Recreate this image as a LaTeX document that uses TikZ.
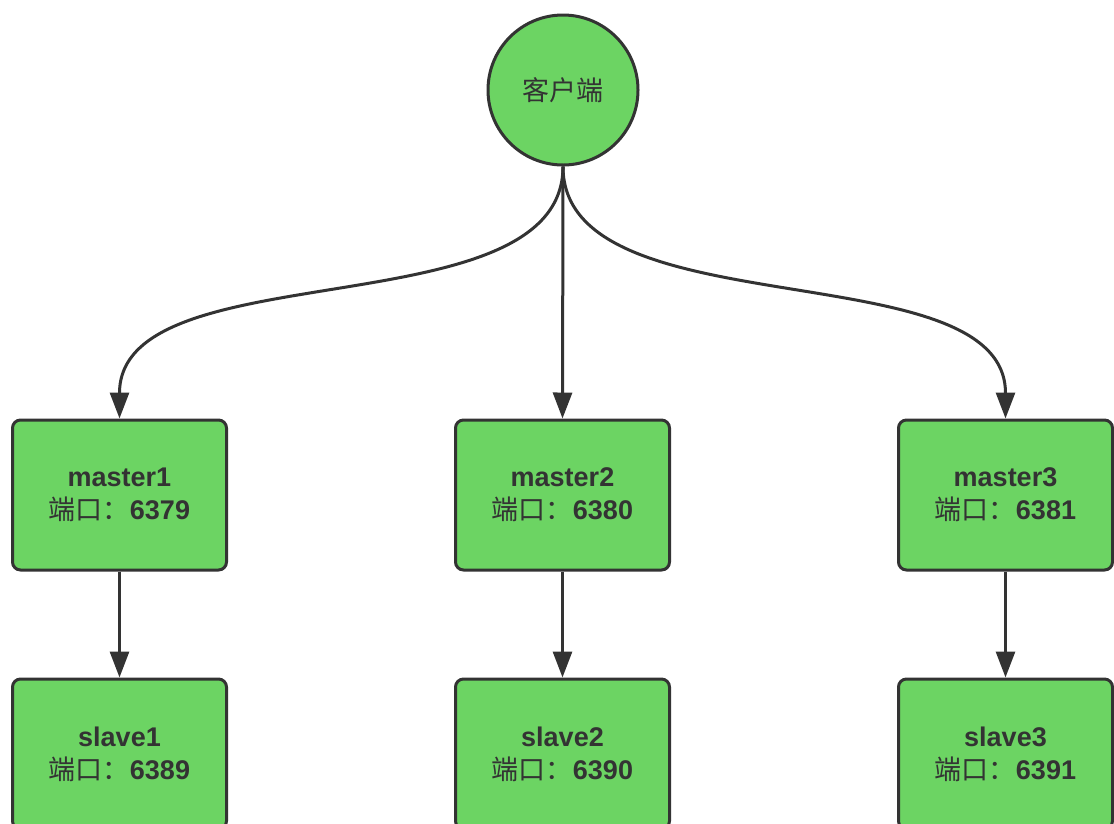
\documentclass[tikz,border=0pt]{standalone}
\usepackage{fontspec}
\setmainfont{Liberation Sans}
\newfontfamily\cjk{Noto Sans CJK SC}
\usetikzlibrary{arrows.meta}
\definecolor{fillg}{HTML}{6CD463}
\definecolor{ink}{HTML}{333333}
\newcommand{\port}{{\cjk\mdseries 端口：}}
\begin{document}
\begin{tikzpicture}[x=1pt,y=-1pt,
  box/.style={draw=ink, fill=fillg, line width=3pt, rounded corners=8pt,
    minimum width=214pt, minimum height=150pt, inner sep=0pt, align=center,
    font=\fontsize{27}{33}\selectfont\bfseries, text=ink},
  client/.style={draw=ink, fill=fillg, line width=3pt, circle,
    minimum size=150pt, inner sep=0pt, font=\fontsize{27}{33}\selectfont\cjk, text=ink},
  arr/.style={draw=ink, line width=3pt, -{Triangle[length=26pt,width=19pt]}}]
\useasboundingbox (0,0) rectangle (1114,823);
\clip (0,0) rectangle (1114,823);
\node[client] (c) at (563,90) {客户端};
\node[box] (m1) at (119.5,495) {master1\\\port 6379};
\node[box] (m2) at (562.5,495) {master2\\\port 6380};
\node[box] (m3) at (1005.5,495) {master3\\\port 6381};
\node[box] (s1) at (119.5,754) {slave1\\\port 6389};
\node[box] (s2) at (562.5,754) {slave2\\\port 6390};
\node[box] (s3) at (1005.5,754) {slave3\\\port 6391};
\draw[arr] (c.south) .. controls +(0,165) and +(0,-169) .. (m1.north);
\draw[arr] (c.south) -- (m2.north);
\draw[arr] (c.south) .. controls +(0,165) and +(0,-169) .. (m3.north);
\draw[arr] (m1) -- (s1);
\draw[arr] (m2) -- (s2);
\draw[arr] (m3) -- (s3);
\end{tikzpicture}
\end{document}
